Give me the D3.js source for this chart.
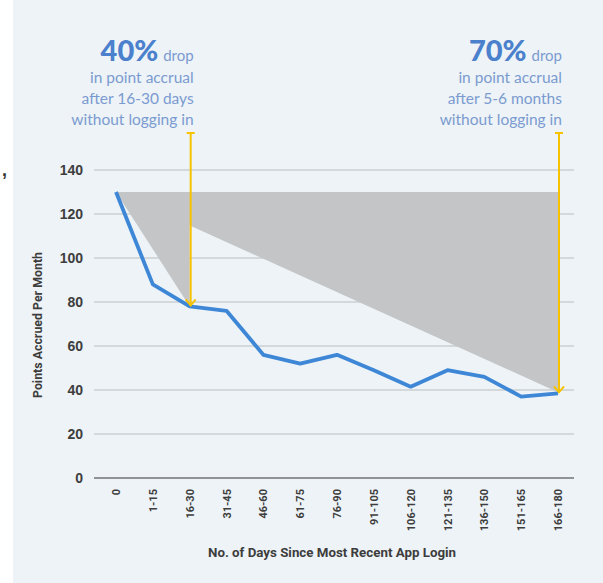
<!DOCTYPE html>
<html>
<head>
<meta charset="utf-8">
<script src="https://cdn.jsdelivr.net/npm/d3@7"></script>
<style>
  body { margin: 0; background: #ffffff; }
  svg { display: block; }
</style>
</head>
<body>
<svg id="chart" width="603" height="583"></svg>
<script>
// chart values
var categories = ["0","1-15","16-30","31-45","46-60","61-75","76-90","91-105","106-120","121-135","136-150","151-165","166-180"];
var points = [130, 88, 78, 76, 56, 52, 56, 49, 41.5, 49, 46, 37, 38.5];
var y_ticks = [0, 20, 40, 60, 80, 100, 120, 140];

// drop triangles: from start level down to the value at the callout category
var drop_start = 130;
var drop_categories = ["16-30", "166-180"];
var drop_values = [78, 39];
var drop_percents = ["40%", "70%"];
var drop_lines = [
    ["in point accrual", "after 16-30 days", "without logging in"],
    ["in point accrual", "after 5-6 months", "without logging in"]
];

var width = 603, height = 583;
var svg = d3.select("#chart");

// backdrop panel
svg.append("rect").attr("x", 13).attr("y", 0).attr("width", width - 13).attr("height", height)
    .attr("fill", "#edf3f7");
svg.append("text").attr("x", 2).attr("y", 176).attr("font-family", "Liberation Sans")
    .attr("font-weight", "bold")
    .attr("font-size", 18).attr("fill", "#333").text(",");

const x = d3.scalePoint().domain(categories).range([116, 558]);
const y = d3.scaleLinear().domain([0, 140]).range([478, 170]);

//gridlines
svg.append("g").selectAll("line")
    .data(y_ticks)
    .join("line")
    .attr("x1", 94).attr("x2", 574)
    .attr("y1", d => y(d)).attr("y2", d => y(d))
    .attr("stroke", d => d === 0 ? "#6f7376" : "#b9bdc0")
    .attr("stroke-width", d => d === 0 ? 1.5 : 1);

// y tick labels
svg.append("g").selectAll("text")
    .data(y_ticks)
    .join("text")
    .attr("x", 83).attr("y", d => y(d) + 5)
    .attr("text-anchor", "end")
    .attr("font-family", "Liberation Sans, Arial, sans-serif")
    .attr("font-weight", "bold").attr("font-size", 14)
    .attr("fill", "#3d3d3d")
    .text(d => d);

// x tick labels, rotated
svg.append("g").selectAll("text")
    .data(categories)
    .join("text")
    .attr("transform", d => "translate(" + (x(d) + 4) + ",489) rotate(-90)")
    .attr("text-anchor", "end")
    .attr("font-family", "Roboto, sans-serif")
    .attr("font-weight", "bold").attr("font-size", 11)
    .attr("fill", "#3d3d3d")
    .text(d => d);

// axis titles
svg.append("text")
    .attr("x", 332).attr("y", 557)
    .attr("text-anchor", "middle")
    .attr("font-family", "Roboto, sans-serif")
    .attr("font-weight", "bold").attr("font-size", 13)
    .attr("textLength", 248).attr("lengthAdjust", "spacingAndGlyphs")
    .attr("fill", "#3d3d3d")
    .text("No. of Days Since Most Recent App Login");

svg.append("text")
    .attr("transform", "translate(42,325) rotate(-90)")
    .attr("text-anchor", "middle")
    .attr("font-family", "Roboto, sans-serif")
    .attr("font-weight", "bold").attr("font-size", 12)
    .attr("textLength", 146).attr("lengthAdjust", "spacingAndGlyphs")
    .attr("fill", "#3d3d3d")
    .text("Points Accrued Per Month");

// gray drop triangles (largest first)
var tri_order = [1, 0];
svg.append("g").selectAll("path")
    .data(tri_order)
    .join("path")
    .attr("d", i => "M" + x(categories[0]) + "," + y(drop_start)
        + "L" + x(drop_categories[i]) + "," + y(drop_start)
        + "L" + x(drop_categories[i]) + "," + y(drop_values[i]) + "Z")
    .attr("fill", "#c4c5c6");

// data line
const line = d3.line().x((d, i) => x(categories[i])).y(d => y(d));
svg.append("path")
    .datum(points)
    .attr("d", line)
    .attr("fill", "none")
    .attr("stroke", "#3e87d6")
    .attr("stroke-width", 3.8)
    .attr("stroke-linejoin", "round");

// yellow arrows
var arrow_top = 133;
const arrows = svg.append("g").selectAll("g")
    .data(drop_categories)
    .join("g");
arrows.append("line")
    .attr("x1", d => x(d) + 1).attr("x2", d => x(d) + 1)
    .attr("y1", arrow_top).attr("y2", (d, i) => y(points[categories.indexOf(d)]) - 1)
    .attr("stroke", "#f7c200").attr("stroke-width", 2);
arrows.append("line")
    .attr("x1", d => x(d) - 3).attr("x2", d => x(d) + 5)
    .attr("y1", arrow_top).attr("y2", arrow_top)
    .attr("stroke", "#f7c200").attr("stroke-width", 2);
arrows.append("path")
    .attr("d", d => {
        var cx = x(d) + 1, cy = y(points[categories.indexOf(d)]) - 1;
        return "M" + (cx - 5) + "," + (cy - 6) + "L" + cx + "," + cy + "L" + (cx + 5) + "," + (cy - 6);
    })
    .attr("fill", "none").attr("stroke", "#f7c200").attr("stroke-width", 2);

// callout texts
const callouts = svg.append("g").selectAll("text")
    .data(drop_categories)
    .join("text")
    .attr("text-anchor", "end")
    .attr("font-family", "Lato, sans-serif")
    .attr("fill", "#7b9bd0");

callouts.append("tspan")
    .attr("x", d => x(d) + 4).attr("y", 61)
    .attr("font-size", 29).attr("font-weight", 900)
    .attr("fill", "#4a80cc")
    .text((d, i) => drop_percents[i]);
callouts.append("tspan")
    .attr("dx", 5)
    .attr("font-size", 15).attr("font-weight", 400)
    .text("drop");

drop_lines.forEach(function(lines, i) {
    svg.append("g").selectAll("text")
        .data(lines)
        .join("text")
        .attr("x", x(drop_categories[i]) + 4)
        .attr("y", (d, j) => 83 + j * 21)
        .attr("text-anchor", "end")
        .attr("font-family", "Lato, sans-serif")
        .attr("font-size", 15.5).attr("font-weight", 400)
        .attr("fill", "#7b9bd0")
        .text(d => d);
});
</script>
</body>
</html>
